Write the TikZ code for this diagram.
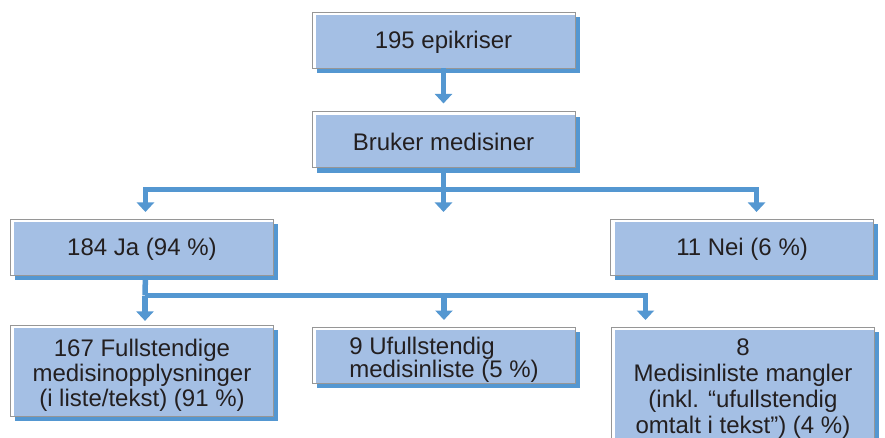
\documentclass[tikz,border=0pt]{standalone}
\usepackage{fontspec}
\setmainfont{Liberation Sans}
\usepackage{tikz}
\usetikzlibrary{arrows.meta,positioning,shadows,calc}
\definecolor{boxblue}{RGB}{164,191,228}
\definecolor{shadowblue}{RGB}{84,151,209}
\definecolor{outlinegray}{RGB}{150,150,150}
\definecolor{textdark}{RGB}{35,31,32}
\newcommand{\padtop}[1]{\rule{0pt}{#1}}

\begin{document}
\begin{tikzpicture}[x=1pt, y=-1pt, font=\fontsize{24}{25}\selectfont, text=textdark,
    box/.style={rectangle, draw=outlinegray, line width=0.9pt, minimum width=263pt, minimum height=56pt, align=center, inner sep=0pt,
      general shadow={fill=shadowblue, shadow xshift=4.5pt, shadow yshift=-5pt},
      path picture={\fill[boxblue] ([xshift=4pt,yshift=-3pt]path picture bounding box.north west) rectangle (path picture bounding box.south east);}},
    oneline/.style={execute at begin node={\padtop{21.5pt}}},
    link/.style={shadowblue, line width=5.5pt},
    arrow/.style={link, -{Triangle[width=17pt,length=9.5pt]}}]
        \useasboundingbox (0,0) rectangle (885,438);
        \clip (0,0) rectangle (885,438);

        \node[box, oneline] (epi) at (443.5,40) {195 epikriser};
        \node[box, oneline, below=43pt of epi] (bruker) {Bruker medisiner};
        \node[box, oneline, anchor=north west] (ja) at (10,219) {184 Ja (94 \%)};
        \node[box, oneline, anchor=north east] (nei) at (874,219) {11 Nei (6 \%)};
        \node[box, below=49pt of ja, minimum height=91pt] (full) {\padtop{26pt}167 Fullstendige\\medisinopplysninger\\(i liste/tekst) (91 \%)};
        \node[box, anchor=north west, align=left, font=\fontsize{24}{23.5}\selectfont] (ufull) at (312,327) {\padtop{26.5pt}9 Ufullstendig\\medisinliste (5 \%)};
        \node[box, anchor=north west, minimum height=122pt, font=\fontsize{24}{26}\selectfont] (mangler) at (611,327) {8\\Medisinliste mangler\\(inkl. “ufullstendig\\omtalt i tekst”) (4 \%)};

        \draw[arrow, shorten >=8pt] (epi) -- (bruker);

        % first split
        \coordinate (split1) at (443.5,189.5);
        \coordinate (tip1) at (443.5,212);
        \draw[arrow] (bruker) -- (tip1);
        \draw[arrow, shorten >=7pt] (split1) -| ([xshift=3.5pt]ja.north);
        \draw[arrow, shorten >=7pt] (split1) -| ([xshift=14.5pt]nei.north);

        % second split
        \coordinate (split2) at (145,295.5);
        \draw[link] ([xshift=3.5pt]ja.south) -- (split2);
        \draw[arrow, shorten >=4pt] (split2) -- (full.north -| split2);
        \draw[arrow, shorten >=7pt] (split2) -| (ufull.north);
        \draw[arrow, shorten >=7pt] (split2) -| ([xshift=-97.5pt]mangler.north);
      \end{tikzpicture}
\end{document}
